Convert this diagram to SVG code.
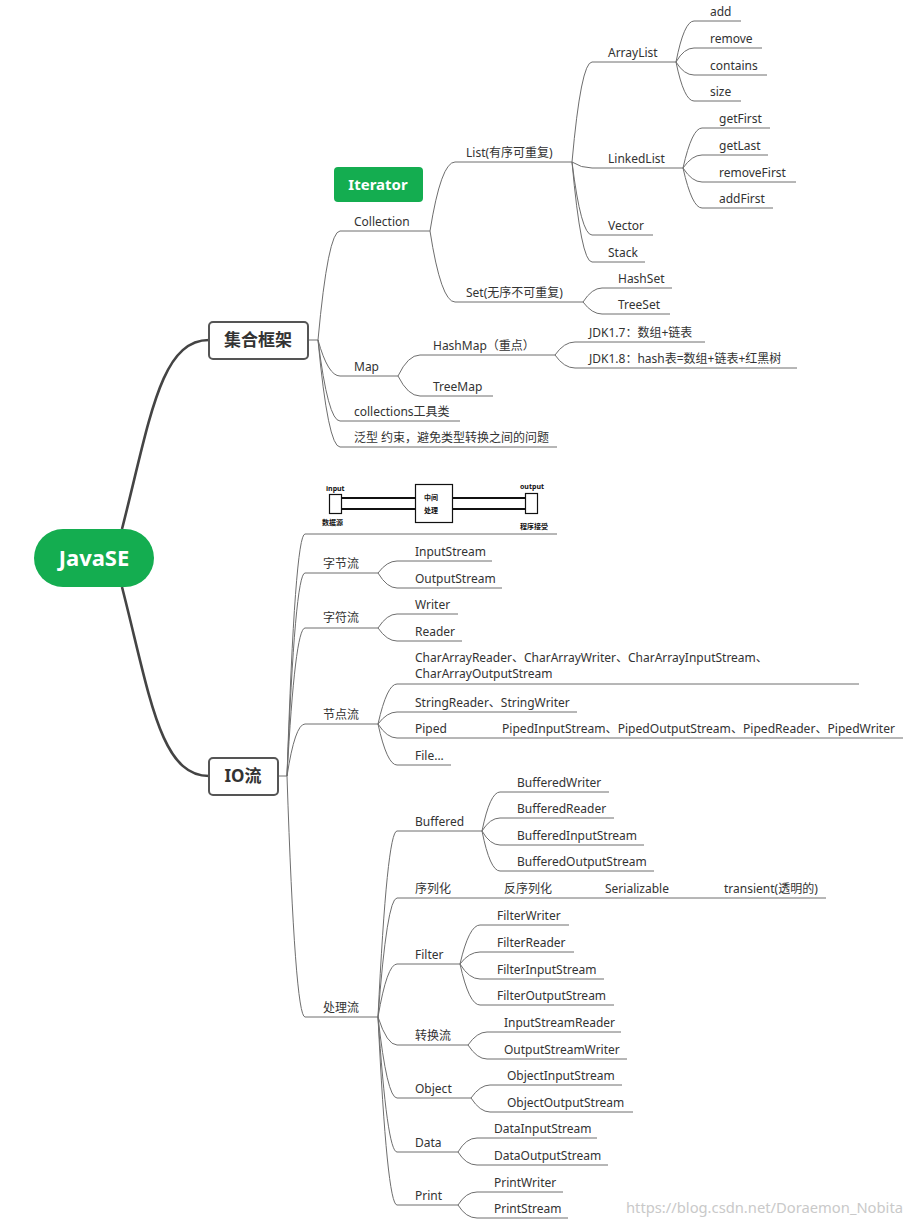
<svg xmlns="http://www.w3.org/2000/svg" width="911" height="1226" viewBox="0 0 911 1226">
<style>
text{font-family:"Noto Sans","Noto Sans CJK SC",sans-serif;font-size:12px;fill:#333}
.ul{stroke:#6e6e6e;stroke-width:1;fill:none}
.c{stroke:#6e6e6e;stroke-width:1;fill:none}
.thick{stroke:#444;stroke-width:2.6;fill:none}
.box{fill:#fff;stroke:#555;stroke-width:2}
.green{fill:#14ad50}
.bt{font-weight:bold;font-size:17px;fill:#333;text-anchor:middle}
.wt{font-weight:bold;fill:#fff;text-anchor:middle}
.pic{stroke:#111;fill:none}
.pt{font-size:7px;font-weight:bold;fill:#111}
.wm{font-size:15px;fill:#c9c9c9}
</style>
<rect width="911" height="1226" fill="#fff"/>
<g id="connectors">
<path class="thick" d="M122 529 C150 420 160 340 209 340"/>
<path class="thick" d="M122 587 C150 696 160 776 209 776"/>
<path class="c" d="M308 340 L318 340"/>
<path class="c" d="M318 340 Q328 231 340 231"/>
<path class="c" d="M318 340 Q328 376 340 376"/>
<path class="c" d="M318 340 Q328 421 340 421"/>
<path class="c" d="M318 340 Q328 447 340 447"/>
<path class="c" d="M430 231 Q441 162 455 162"/>
<path class="c" d="M430 231 Q441 302 455 302"/>
<path class="c" d="M572 162 Q581 62 592 62"/>
<path class="c" d="M572 162 Q581 168 592 168"/>
<path class="c" d="M572 162 Q581 235 592 235"/>
<path class="c" d="M572 162 Q581 262 592 262"/>
<path class="c" d="M676 62 Q684 21 694 21"/>
<path class="c" d="M676 62 Q684 48 694 48"/>
<path class="c" d="M676 62 Q684 75 694 75"/>
<path class="c" d="M676 62 Q684 101 694 101"/>
<path class="c" d="M683 168 Q692 128 702 128"/>
<path class="c" d="M683 168 Q692 155 702 155"/>
<path class="c" d="M683 168 Q692 182 702 182"/>
<path class="c" d="M683 168 Q692 208 702 208"/>
<path class="c" d="M583 302 Q592 288 602 288"/>
<path class="c" d="M583 302 Q592 314 602 314"/>
<path class="c" d="M398 376 Q408 355 420 355"/>
<path class="c" d="M398 376 Q408 396 420 396"/>
<path class="c" d="M555 355 Q564 342 575 342"/>
<path class="c" d="M555 355 Q564 368 575 368"/>
<path class="c" d="M278 776 L287 776"/>
<path class="c" d="M287 776 Q295 534 305 534"/>
<path class="c" d="M287 776 Q295 573 305 573"/>
<path class="c" d="M287 776 Q295 628 305 628"/>
<path class="c" d="M287 776 Q295 724 305 724"/>
<path class="c" d="M287 776 Q295 1017 305 1017"/>
<path class="c" d="M378 573 Q387 561 397 561"/>
<path class="c" d="M378 573 Q387 588 397 588"/>
<path class="c" d="M378 628 Q387 614 397 614"/>
<path class="c" d="M378 628 Q387 641 397 641"/>
<path class="c" d="M378 724 Q387 684 397 684"/>
<path class="c" d="M378 724 Q387 712 397 712"/>
<path class="c" d="M378 724 Q387 738 397 738"/>
<path class="c" d="M378 724 Q387 765 397 765"/>
<path class="c" d="M378 1017 Q387 831 397 831"/>
<path class="c" d="M378 1017 Q387 898 397 898"/>
<path class="c" d="M378 1017 Q387 964 397 964"/>
<path class="c" d="M378 1017 Q387 1045 397 1045"/>
<path class="c" d="M378 1017 Q387 1098 397 1098"/>
<path class="c" d="M378 1017 Q387 1152 397 1152"/>
<path class="c" d="M378 1017 Q387 1205 397 1205"/>
<path class="c" d="M482 831 Q490 792 500 792"/>
<path class="c" d="M482 831 Q490 818 500 818"/>
<path class="c" d="M482 831 Q490 845 500 845"/>
<path class="c" d="M482 831 Q490 871 500 871"/>
<path class="c" d="M460 964 Q469 925 480 925"/>
<path class="c" d="M460 964 Q469 952 480 952"/>
<path class="c" d="M460 964 Q469 979 480 979"/>
<path class="c" d="M460 964 Q469 1005 480 1005"/>
<path class="c" d="M468 1045 Q477 1032 487 1032"/>
<path class="c" d="M468 1045 Q477 1059 487 1059"/>
<path class="c" d="M471 1098 Q480 1085 490 1085"/>
<path class="c" d="M471 1098 Q480 1112 490 1112"/>
<path class="c" d="M458 1152 Q466 1138 477 1138"/>
<path class="c" d="M458 1152 Q466 1165 477 1165"/>
<path class="c" d="M458 1205 Q466 1192 477 1192"/>
<path class="c" d="M458 1205 Q466 1218 477 1218"/>
</g>
<g id="root"><rect class="green" x="34" y="529" width="120" height="58" rx="29"/><text class="wt" x="94" y="566" style="font-size:22px">JavaSE</text></g>
<g id="jihe"><rect class="box" x="209" y="322" width="99" height="37" rx="4"/><text class="bt" x="258" y="346">集合框架</text></g>
<g id="io"><rect class="box" x="209" y="758" width="69" height="37" rx="4"/><text class="bt" x="243" y="782">IO流</text></g>
<g id="iterator"><rect class="green" x="334" y="167" width="89" height="35" rx="4"/><text class="wt" x="378" y="190" style="font-size:15px">Iterator</text></g>

<g id="collection"><line class="ul" x1="340" y1="231" x2="430" y2="231"/><text x="354" y="226">Collection</text></g>
<g id="list"><line class="ul" x1="455" y1="162" x2="572" y2="162"/><text x="466" y="157">List(有序可重复)</text></g>
<g id="set"><line class="ul" x1="455" y1="302" x2="583" y2="302"/><text x="466" y="297">Set(无序不可重复)</text></g>
<g id="arraylist"><line class="ul" x1="592" y1="62" x2="676" y2="62"/><text x="608" y="57">ArrayList</text></g>
<g id="linkedlist"><line class="ul" x1="592" y1="168" x2="683" y2="168"/><text x="608" y="163">LinkedList</text></g>
<g id="vector"><line class="ul" x1="592" y1="235" x2="653" y2="235"/><text x="608" y="230">Vector</text></g>
<g id="stack"><line class="ul" x1="592" y1="262" x2="645" y2="262"/><text x="608" y="257">Stack</text></g>
<g id="add"><line class="ul" x1="694" y1="21" x2="741" y2="21"/><text x="710" y="16">add</text></g>
<g id="remove"><line class="ul" x1="694" y1="48" x2="762" y2="48"/><text x="710" y="43">remove</text></g>
<g id="contains"><line class="ul" x1="694" y1="75" x2="767" y2="75"/><text x="710" y="70">contains</text></g>
<g id="size"><line class="ul" x1="694" y1="101" x2="741" y2="101"/><text x="710" y="96">size</text></g>
<g id="getfirst"><line class="ul" x1="702" y1="128" x2="770" y2="128"/><text x="719" y="123">getFirst</text></g>
<g id="getlast"><line class="ul" x1="702" y1="155" x2="768" y2="155"/><text x="719" y="150">getLast</text></g>
<g id="removefirst"><line class="ul" x1="702" y1="182" x2="796" y2="182"/><text x="719" y="177">removeFirst</text></g>
<g id="addfirst"><line class="ul" x1="702" y1="208" x2="773" y2="208"/><text x="719" y="203">addFirst</text></g>
<g id="hashset"><line class="ul" x1="602" y1="288" x2="672" y2="288"/><text x="618" y="283">HashSet</text></g>
<g id="treeset"><line class="ul" x1="602" y1="314" x2="670" y2="314"/><text x="618" y="309">TreeSet</text></g>
<g id="map"><line class="ul" x1="340" y1="376" x2="398" y2="376"/><text x="354" y="371">Map</text></g>
<g id="hashmap"><line class="ul" x1="420" y1="355" x2="555" y2="355"/><text x="433" y="350">HashMap（重点）</text></g>
<g id="treemap"><line class="ul" x1="420" y1="396" x2="493" y2="396"/><text x="433" y="391">TreeMap</text></g>
<g id="jdk17"><line class="ul" x1="575" y1="342" x2="705" y2="342"/><text x="589" y="337">JDK1.7：数组+链表</text></g>
<g id="jdk18"><line class="ul" x1="575" y1="368" x2="797" y2="368"/><text x="589" y="363">JDK1.8：hash表=数组+链表+红黑树</text></g>
<g id="collections"><line class="ul" x1="340" y1="421" x2="460" y2="421"/><text x="354" y="416">collections工具类</text></g>
<g id="fanxing"><line class="ul" x1="340" y1="447" x2="557" y2="447"/><text x="354" y="442">泛型 约束，避免类型转换之间的问题</text></g>

<g id="iopic">
<line class="ul" x1="305" y1="534" x2="557" y2="534"/>
<rect class="pic" x="329.5" y="494.5" width="12" height="19" stroke-width="1.2"/>
<rect class="pic" x="415.5" y="484.5" width="37" height="38" stroke-width="1.2"/>
<rect class="pic" x="525.5" y="493.5" width="12" height="20" stroke-width="1.2"/>
<line class="pic" x1="341" y1="498" x2="415" y2="498" stroke-width="2"/>
<line class="pic" x1="341" y1="509" x2="415" y2="509" stroke-width="2"/>
<line class="pic" x1="453" y1="498" x2="525" y2="498" stroke-width="2"/>
<line class="pic" x1="453" y1="509" x2="525" y2="509" stroke-width="2"/>
<text class="pt" x="326" y="491">input</text>
<text class="pt" x="520" y="489">output</text>
<text class="pt" x="424" y="500">中间</text>
<text class="pt" x="424" y="513">处理</text>
<text class="pt" x="322" y="525">数据源</text>
<text class="pt" x="520" y="529">程序接受</text>
</g>
<g id="zijieliu"><line class="ul" x1="305" y1="573" x2="378" y2="573"/><text x="323" y="568">字节流</text></g>
<g id="inputstream"><line class="ul" x1="397" y1="561" x2="492" y2="561"/><text x="415" y="556">InputStream</text></g>
<g id="outputstream"><line class="ul" x1="397" y1="588" x2="502" y2="588"/><text x="415" y="583">OutputStream</text></g>
<g id="zifuliu"><line class="ul" x1="305" y1="628" x2="378" y2="628"/><text x="323" y="622">字符流</text></g>
<g id="writer"><line class="ul" x1="397" y1="614" x2="458" y2="614"/><text x="415" y="609">Writer</text></g>
<g id="reader"><line class="ul" x1="397" y1="641" x2="462" y2="641"/><text x="415" y="636">Reader</text></g>
<g id="jiedianliu"><line class="ul" x1="305" y1="724" x2="378" y2="724"/><text x="323" y="719">节点流</text></g>
<g id="chararray"><line class="ul" x1="397" y1="684" x2="859" y2="684"/><text x="415" y="662">CharArrayReader、CharArrayWriter、CharArrayInputStream、</text><text x="415" y="678">CharArrayOutputStream</text></g>
<g id="string"><line class="ul" x1="397" y1="712" x2="577" y2="712"/><text x="415" y="707">StringReader、StringWriter</text></g>
<g id="piped"><line class="ul" x1="397" y1="738" x2="903" y2="738"/><text x="415" y="733">Piped</text><text x="502" y="733" textLength="393" lengthAdjust="spacingAndGlyphs">PipedInputStream、PipedOutputStream、PipedReader、PipedWriter</text></g>
<g id="file"><line class="ul" x1="397" y1="765" x2="451" y2="765"/><text x="415" y="760">File...</text></g>
<g id="chuliliu"><line class="ul" x1="305" y1="1017" x2="378" y2="1017"/><text x="323" y="1012">处理流</text></g>
<g id="buffered"><line class="ul" x1="397" y1="831" x2="482" y2="831"/><text x="415" y="826">Buffered</text></g>
<g id="bw"><line class="ul" x1="500" y1="792" x2="609" y2="792"/><text x="517" y="787">BufferedWriter</text></g>
<g id="br"><line class="ul" x1="500" y1="818" x2="614" y2="818"/><text x="517" y="813">BufferedReader</text></g>
<g id="bis"><line class="ul" x1="500" y1="845" x2="644" y2="845"/><text x="517" y="840">BufferedInputStream</text></g>
<g id="bos"><line class="ul" x1="500" y1="871" x2="654" y2="871"/><text x="517" y="866">BufferedOutputStream</text></g>
<g id="xuliehua"><line class="ul" x1="397" y1="898" x2="826" y2="898"/><text x="415" y="893">序列化</text><text x="504" y="893">反序列化</text><text x="605" y="893">Serializable</text><text x="724" y="893">transient(透明的)</text></g>
<g id="filter"><line class="ul" x1="397" y1="964" x2="460" y2="964"/><text x="415" y="959">Filter</text></g>
<g id="fw"><line class="ul" x1="480" y1="925" x2="569" y2="925"/><text x="497" y="920">FilterWriter</text></g>
<g id="fr"><line class="ul" x1="480" y1="952" x2="574" y2="952"/><text x="497" y="947">FilterReader</text></g>
<g id="fis"><line class="ul" x1="480" y1="979" x2="604" y2="979"/><text x="497" y="974">FilterInputStream</text></g>
<g id="fos"><line class="ul" x1="480" y1="1005" x2="614" y2="1005"/><text x="497" y="1000">FilterOutputStream</text></g>
<g id="zhuanhuan"><line class="ul" x1="397" y1="1045" x2="468" y2="1045"/><text x="415" y="1040">转换流</text></g>
<g id="isr"><line class="ul" x1="487" y1="1032" x2="621" y2="1032"/><text x="504" y="1027">InputStreamReader</text></g>
<g id="osw"><line class="ul" x1="487" y1="1059" x2="627" y2="1059"/><text x="504" y="1054">OutputStreamWriter</text></g>
<g id="object"><line class="ul" x1="397" y1="1098" x2="471" y2="1098"/><text x="415" y="1093">Object</text></g>
<g id="ois"><line class="ul" x1="490" y1="1085" x2="622" y2="1085"/><text x="507" y="1080">ObjectInputStream</text></g>
<g id="oos"><line class="ul" x1="490" y1="1112" x2="633" y2="1112"/><text x="507" y="1107">ObjectOutputStream</text></g>
<g id="data"><line class="ul" x1="397" y1="1152" x2="458" y2="1152"/><text x="415" y="1147">Data</text></g>
<g id="dis"><line class="ul" x1="477" y1="1138" x2="597" y2="1138"/><text x="494" y="1133">DataInputStream</text></g>
<g id="dos"><line class="ul" x1="477" y1="1165" x2="608" y2="1165"/><text x="494" y="1160">DataOutputStream</text></g>
<g id="print"><line class="ul" x1="397" y1="1205" x2="458" y2="1205"/><text x="415" y="1200">Print</text></g>
<g id="pw"><line class="ul" x1="477" y1="1192" x2="563" y2="1192"/><text x="494" y="1187">PrintWriter</text></g>
<g id="ps"><line class="ul" x1="477" y1="1218" x2="568" y2="1218"/><text x="494" y="1213">PrintStream</text></g>
<text class="wm" x="626" y="1213" textLength="277" lengthAdjust="spacingAndGlyphs">https://blog.csdn.net/Doraemon_Nobita</text>
</svg>
